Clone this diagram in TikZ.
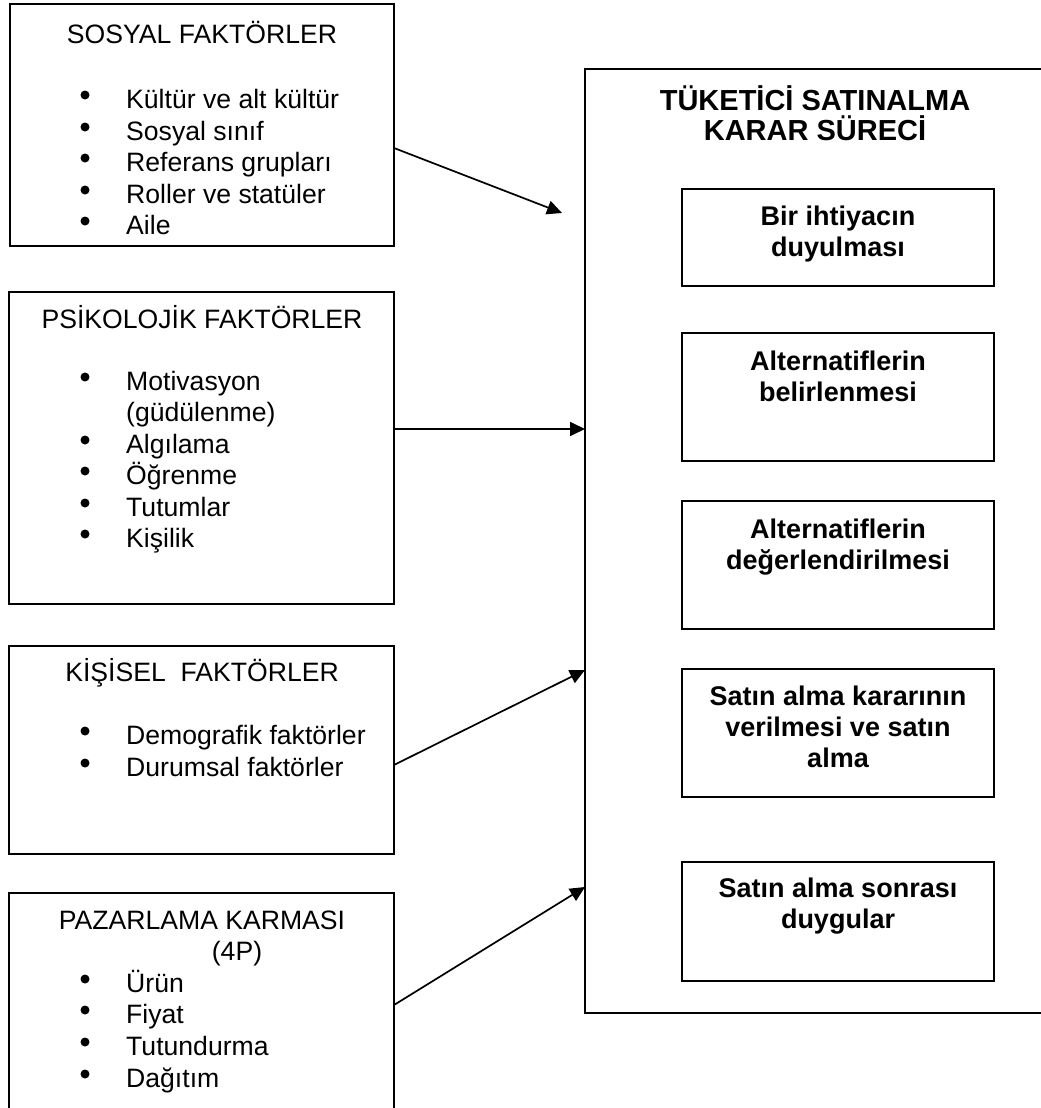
\documentclass[tikz,border=0pt]{standalone}
\usepackage{fontspec}
\setmainfont{Liberation Sans}
\usetikzlibrary{arrows.meta}
\begin{document}
\begin{tikzpicture}[x=1pt,y=-1pt,
  box/.style={draw, line width=1.7pt, inner sep=0pt, outer sep=0pt, anchor=north west},
  ltxt/.style={inner sep=0pt, anchor=base, font=\fontsize{26.6}{31.5}\selectfont},
  litem/.style={inner sep=0pt, anchor=base west, font=\fontsize{26.6}{31.5}\selectfont},
  bul/.style={circle, fill=black, inner sep=0pt, minimum size=9pt, yshift=13pt},
  htxt/.style={inner sep=0pt, anchor=base, font=\fontsize{29}{30}\selectfont\bfseries},
  btxt/.style={inner sep=0pt, anchor=base, font=\fontsize{27}{31.5}\selectfont\bfseries},
  conn/.style={line width=1.7pt, -{Triangle[length=15pt,width=14pt]}}]
\useasboundingbox (0,0) rectangle (1041,1108);
\clip (0,0) rectangle (1041,1108);

% left boxes
\node[box, minimum width=384pt, minimum height=242pt] (sos) at (10,4) {};
\node[box, minimum width=385pt, minimum height=312pt] (psi) at (9,292) {};
\node[box, minimum width=385pt, minimum height=208pt] (kis) at (9,646) {};
\node[box, minimum width=385pt, minimum height=260pt] (paz) at (9,893) {};

% right big box
\node[box, minimum width=480pt, minimum height=944pt] (big) at (585,69) {};

% inner process boxes
\node[box, minimum width=312pt, minimum height=97pt]  (p1) at (682,189) {};
\node[box, minimum width=312pt, minimum height=128pt] (p2) at (682,333) {};
\node[box, minimum width=312pt, minimum height=128pt] (p3) at (682,501) {};
\node[box, minimum width=312pt, minimum height=128pt] (p4) at (682,669) {};
\node[box, minimum width=312pt, minimum height=119pt] (p5) at (682,862) {};

% SOSYAL
\node[ltxt] (sosT) at (202,44) {SOSYAL FAKTÖRLER};
\node[bul] (sb1) at (85,108) {}; \node[litem] (si1) at (126,108) {Kültür ve alt kültür};
\node[bul] (sb2) at (85,140) {}; \node[litem] (si2) at (126,140) {Sosyal sınıf};
\node[bul] (sb3) at (85,171) {}; \node[litem] (si3) at (126,171) {Referans grupları};
\node[bul] (sb4) at (85,203) {}; \node[litem] (si4) at (126,203) {Roller ve statüler};
\node[bul] (sb5) at (85,234) {}; \node[litem] (si5) at (126,234) {Aile};

% PSIKOLOJIK
\node[ltxt] (psiT) at (202,328) {PSİKOLOJİK FAKTÖRLER};
\node[bul] (pb1) at (85,390) {}; \node[litem] (pi1) at (126,390) {Motivasyon};
\node[litem] (pi1b) at (126,421) {(güdülenme)};
\node[bul] (pb2) at (85,453) {}; \node[litem] (pi2) at (126,453) {Algılama};
\node[bul] (pb3) at (85,484) {}; \node[litem] (pi3) at (126,484) {Öğrenme};
\node[bul] (pb4) at (85,516) {}; \node[litem] (pi4) at (126,516) {Tutumlar};
\node[bul] (pb5) at (85,547) {}; \node[litem] (pi5) at (126,547) {Kişilik};

% KISISEL
\node[ltxt] (kisT) at (202,681) {KİŞİSEL\ \ FAKTÖRLER};
\node[bul] (kb1) at (85,744) {}; \node[litem] (ki1) at (126,744) {Demografik faktörler};
\node[bul] (kb2) at (85,776) {}; \node[litem] (ki2) at (126,776) {Durumsal faktörler};

% PAZARLAMA
\node[ltxt] (pazT) at (202,929) {PAZARLAMA KARMASI};
\node[ltxt] (pazT2) at (237,960) {(4P)};
\node[bul] (zb1) at (85,992) {}; \node[litem] (zi1) at (126,992) {Ürün};
\node[bul] (zb2) at (85,1023) {}; \node[litem] (zi2) at (126,1023) {Fiyat};
\node[bul] (zb3) at (85,1055) {}; \node[litem] (zi3) at (126,1055) {Tutundurma};
\node[bul] (zb4) at (85,1087) {}; \node[litem] (zi4) at (126,1087) {Dağıtım};

% right title
\node[htxt] (bigT1) at (815,110) {TÜKETİCİ SATINALMA};
\node[htxt] (bigT2) at (815,140) {KARAR SÜRECİ};

% process texts
\node[btxt] (p1a) at (838,225) {Bir ihtiyacın};
\node[btxt] (p1b) at (838,256) {duyulması};
\node[btxt] (p2a) at (838,370) {Alternatiflerin};
\node[btxt] (p2b) at (838,401) {belirlenmesi};
\node[btxt] (p3a) at (838,538) {Alternatiflerin};
\node[btxt] (p3b) at (838,569) {değerlendirilmesi};
\node[btxt] (p4a) at (838,705) {Satın alma kararının};
\node[btxt] (p4b) at (838,736) {verilmesi ve satın};
\node[btxt] (p4c) at (838,767) {alma};
\node[btxt] (p5a) at (838,897) {Satın alma sonrası};
\node[btxt] (p5b) at (838,928) {duygular};

% connectors
\coordinate (a1end) at (562,213);
\draw[conn] (sos.east |- 0,148) -- (a1end);
\draw[conn] (psi.east |- 0,429) -- (big.west |- 0,429);
\draw[conn] (kis.east |- 0,765) -- (big.west |- 0,670);
\draw[conn] (paz.east |- 0,1005) -- (big.west |- 0,887);
\end{tikzpicture}
\end{document}
